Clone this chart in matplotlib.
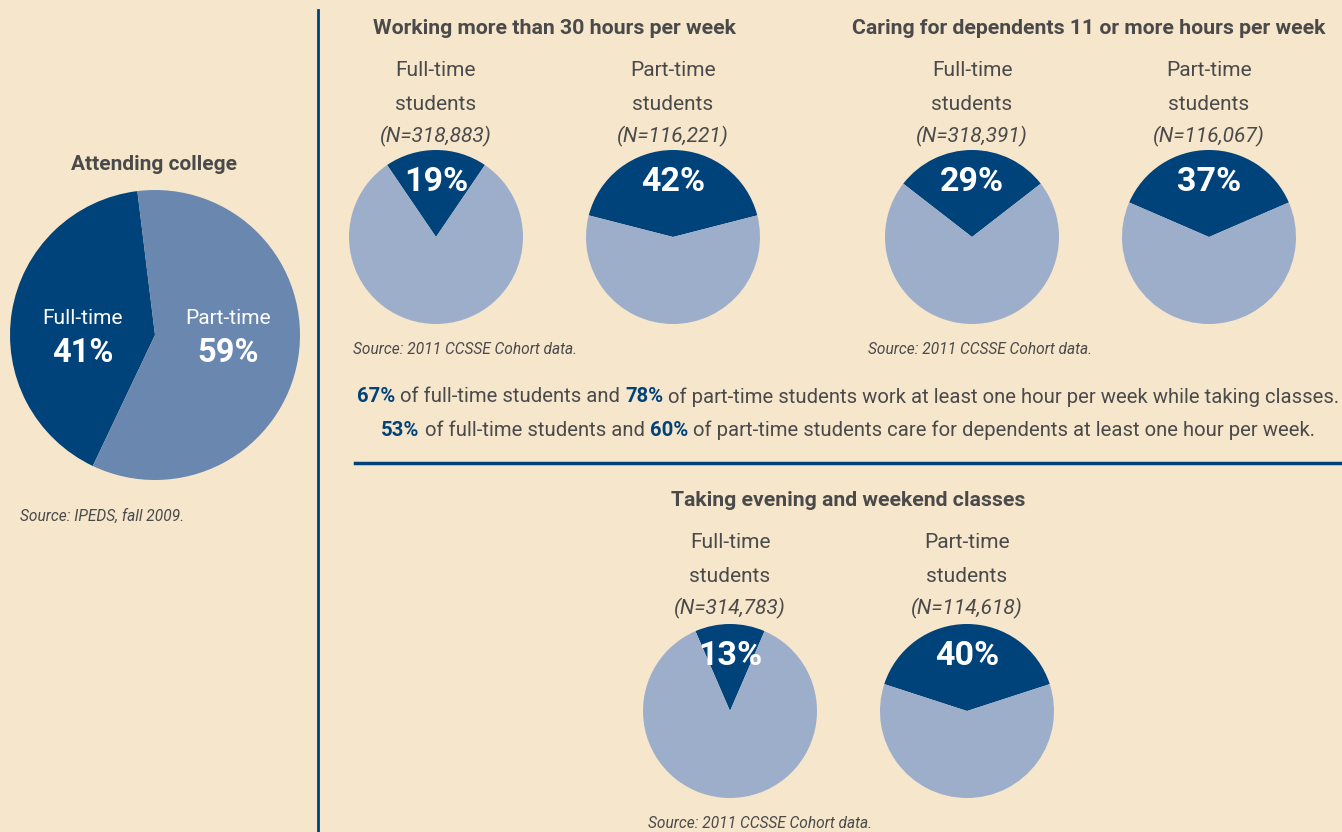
import matplotlib
matplotlib.use("Agg")
import matplotlib.pyplot as plt

# dados
attend_labels = ["Full-time", "Part-time"]
attend_values = [41, 59]

titulos = ["Working more than 30 hours per week",
           "Caring for dependents 11 or more hours per week",
           "Taking evening and weekend classes"]
grupos = ["Full-time", "Part-time"]
n_work = ["(N=318,883)", "(N=116,221)"]
n_care = ["(N=318,391)", "(N=116,067)"]
n_even = ["(N=314,783)", "(N=114,618)"]
pct_work = [19, 42]
pct_care = [29, 37]
pct_even = [13, 40]

linha1 = [("67%", True), (" of full-time students and ", False), ("78%", True),
          (" of part-time students work at least one hour per week while taking classes.", False)]
linha2 = [("53%", True), (" of full-time students and ", False), ("60%", True),
          (" of part-time students care for dependents at least one hour per week.", False)]

# cores
FUNDO = "#F6E6CC"
AZUL = "#00427A"
AZUL_CLARO = "#9DAECB"
AZUL_MEDIO = "#6A87B0"
CINZA = "#4A4A4A"

plt.rcParams["font.family"] = ["Roboto", "DejaVu Sans"]

W, H = 1342, 832
fig = plt.figure(figsize=(W / 100, H / 100), dpi=100, facecolor=FUNDO)


def px(x, y):
    return x / W, 1 - y / H


def texto(x, y, s, **kw):
    fx, fy = px(x, y)
    fig.text(fx, fy, s, va="center", **kw)


def eixo_pie(cx, cy, r):
    ax = fig.add_axes([(cx - r) / W, 1 - (cy + r) / H, 2 * r / W, 2 * r / H])
    return ax


def fechar(ax):
    ax.set_xlim(-1, 1)
    ax.set_ylim(-1, 1)
    ax.set_aspect("equal")
    ax.axis("off")


# grafico da esquerda
texto(154, 164, "Attending college", ha="center", fontsize=15, fontweight="bold", color=CINZA)
ax = eixo_pie(155, 335, 145)
ax.pie(attend_values, colors=[AZUL, AZUL_MEDIO], startangle=97, radius=1,
       wedgeprops=dict(linewidth=0))
fechar(ax)
for x, lab, v in [(83, attend_labels[0], attend_values[0]), (228, attend_labels[1], attend_values[1])]:
    texto(x, 318, lab, ha="center", fontsize=15, color="white")
    texto(x, 353, f"{v}%", ha="center", fontsize=23.5, fontweight="bold", color="white")
texto(20, 516, "Source: IPEDS, fall 2009.", ha="left", fontsize=11.2, style="italic", color=CINZA)

# linha vertical
fig.add_artist(plt.Line2D([318 / W, 318 / W], [0, 1 - 10 / H], color=AZUL, lw=2))


def par_pies(centros, cy, ytop, titulo, xtitulo, ns, pcts):
    texto(xtitulo, ytop, titulo, ha="center", fontsize=15.3, fontweight="bold", color=CINZA)
    for cx, g, n, p in zip(centros, grupos, ns, pcts):
        texto(cx, ytop + 41, g, ha="center", fontsize=15, color=CINZA)
        texto(cx, ytop + 75, "students", ha="center", fontsize=15, color=CINZA)
        texto(cx, ytop + 107, n, ha="center", fontsize=15, style="italic", color=CINZA)
        a = eixo_pie(cx, cy, 87)
        ang = p / 100 * 360
        a.pie([p, 100 - p], colors=[AZUL, AZUL_CLARO], startangle=90 - ang / 2,
              counterclock=True, radius=1, wedgeprops=dict(linewidth=0))
        fechar(a)
        texto(cx, cy - 55, f"{p}%", ha="center", fontsize=24.5, fontweight="bold", color="white")


par_pies([436, 673], 237, 29, titulos[0], 554, n_work, pct_work)
texto(353, 349, "Source: 2011 CCSSE Cohort data.", ha="left", fontsize=11.2, style="italic", color=CINZA)
par_pies([972, 1209], 237, 29, titulos[1], 1089, n_care, pct_care)
texto(868, 349, "Source: 2011 CCSSE Cohort data.", ha="left", fontsize=11.2, style="italic", color=CINZA)

# frases com partes a negrito
fig.canvas.draw()
rend = fig.canvas.get_renderer()


def frase(partes, xc, y):
    objs = []
    for s, bold in partes:
        t = fig.text(0, 1 - y / H, s, va="center", ha="left", fontsize=14.6,
                     fontweight="bold" if bold else "normal",
                     color=AZUL if bold else CINZA)
        objs.append(t)
    larguras = [t.get_window_extent(rend).width for t in objs]
    x = xc - sum(larguras) / 2
    for t, w in zip(objs, larguras):
        t.set_x(x / W)
        x += w


frase(linha1, 848, 397)
frase(linha2, 848, 430)

fig.add_artist(plt.Line2D([355 / W, 1], [1 - 463 / H, 1 - 463 / H], color=AZUL, lw=2.5))

# parte de baixo
par_pies([730, 967], 711, 501, titulos[2], 848, n_even, pct_even)
texto(760, 823, "Source: 2011 CCSSE Cohort data.", ha="center", fontsize=11.2, style="italic", color=CINZA)

fig.savefig("out.png", dpi=100, facecolor=FUNDO)
